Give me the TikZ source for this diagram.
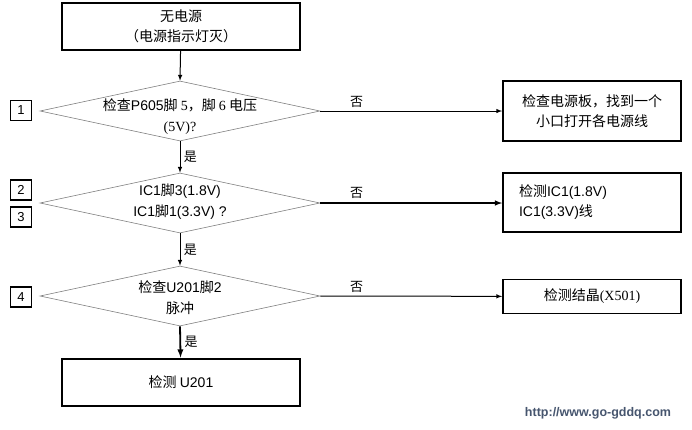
\documentclass[tikz,border=0pt]{standalone}
\usepackage{fontspec}
\setmainfont{Noto Sans CJK SC}
\newfontfamily\latinsf{Liberation Sans}
\newfontfamily\latinrm{Liberation Serif}
\usetikzlibrary{shapes.geometric}
\definecolor{urlgray}{RGB}{70,85,110}
\begin{document}
\begin{tikzpicture}[x=1pt,y=-1pt,
	stepbox/.style={draw=black,line width=2pt,minimum width=238pt,minimum height=47pt,inner sep=0pt,align=center,font=\fontsize{14}{20}\selectfont},
	sidebox/.style={draw=black,line width=1.8pt,minimum width=178pt,inner sep=0pt,align=center,font=\fontsize{14}{20}\selectfont},
	decision/.style={diamond,draw=gray,line width=0.6pt,minimum width=280pt,minimum height=60pt,inner sep=0pt},
	dtext/.style={align=center,font=\fontsize{14}{21}\selectfont},
	numbox/.style={draw=black,line width=1.8pt,minimum width=21pt,minimum height=20pt,inner sep=0pt,font=\latinsf\fontsize{13}{13}\selectfont},
	flow/.style={->,>=latex,line width=1pt},
	lbl/.style={font=\fontsize{13}{13}\selectfont}
]
\useasboundingbox (0,0) rectangle (692,429);
%\draw[help lines] (0,0) grid (692,429);
	\node[stepbox] (start) at (181,26.5) {无电源\\（电源指示灯灭）};
	\node[decision] (d1) at (180,111) {};
	\node[dtext] (t1) at (180,117) {检查{\latinsf P605}脚 {\latinrm 5}，脚 {\latinrm 6} 电压\\{\latinrm (5V)?}};
	\node[decision] (d2) at (180,203) {};
	\node[dtext] (t2) at (180,202) {\latinsf IC1\normalfont 脚\latinsf 3(1.8V)\\\latinsf IC1\normalfont 脚\latinsf 1(3.3V) ?};
	\node[decision] (d3) at (180,296) {};
	\node[dtext] (t3) at (180,298) {检查{\latinsf U201}脚{\latinsf 2}\\脉冲};
	\node[stepbox] (end) at (181,382) {检测 {\latinsf U201}};

	\node[sidebox,minimum height=60pt] (r1) at (592,111) {检查电源板，找到一个\\小口打开各电源线};
	\node[sidebox,minimum height=59pt,align=left,text width=146pt] (r2) at (592,202.5) {检测{\latinsf IC1(1.8V)}\\{\latinsf IC1(3.3V)}线};
	\node[sidebox,minimum height=34pt] (r3) at (592,296.5) {检测结晶{\latinrm (X501)}};

	\node[numbox] (n1) at (21,110.5) {1};
	\node[numbox] (n2) at (21,190) {2};
	\node[numbox] (n3) at (21,217) {3};
	\node[numbox] (n4) at (21,297) {4};

	\draw[flow] (start) -- (d1.north);
	\draw[flow] (d1.south) -- node[lbl,right] {是} (d2.north);
	\draw[flow] (d2.south) -- node[lbl,right] {是} (d3.north);
	\draw[flow,line width=1.8pt] (d3.south) -- node[lbl,right] {是} (end);

	\draw[flow] (d1.east) -- node[lbl,above,pos=0.2] {否} (r1);
	\draw[flow,line width=1.5pt] (d2.east) -- node[lbl,above,pos=0.2] {否} (d2.east -| r2.west);
	\draw[flow] (d3.east) -- node[lbl,above,pos=0.2] {否} (r3);

	\node[text=urlgray,font=\latinsf\bfseries\fontsize{12.5}{13}\selectfont] (url) at (598,413) {http://www.go-gddq.com};
\end{tikzpicture}
\end{document}
